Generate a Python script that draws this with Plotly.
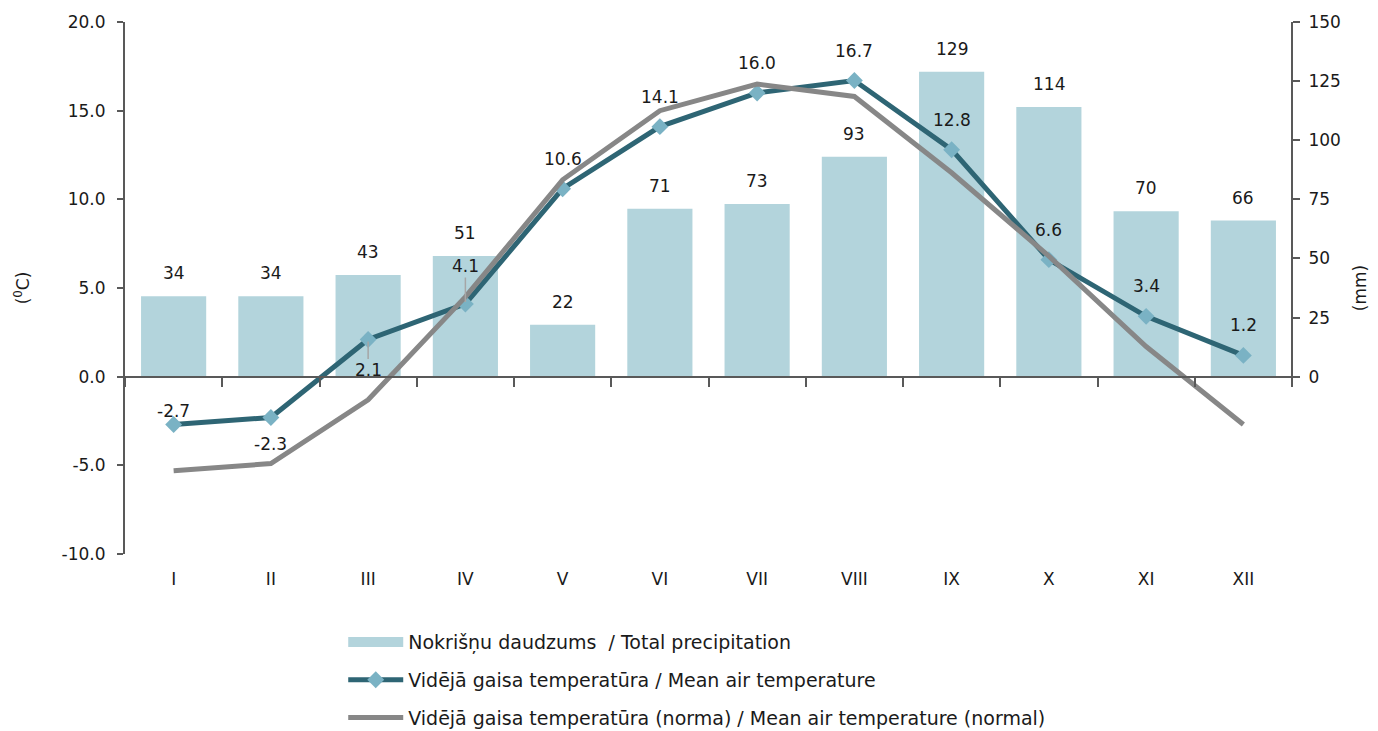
import plotly.graph_objects as go

months = ['I', 'II', 'III', 'IV', 'V', 'VI', 'VII', 'VIII', 'IX', 'X', 'XI', 'XII']
precip = [34, 34, 43, 51, 22, 71, 73, 93, 129, 114, 70, 66]
temp_mean = [-2.7, -2.3, 2.1, 4.1, 10.6, 14.1, 16.0, 16.7, 12.8, 6.6, 3.4, 1.2]
temp_norm = [-5.3, -4.9, -1.3, 4.5, 11.1, 15.0, 16.5, 15.8, 11.5, 6.8, 1.7, -2.7]
temp_ticks = [-10, -5, 0, 5, 10, 15, 20]
precip_ticks = [0, 25, 50, 75, 100, 125, 150]

name_bar = 'Nokrišņu daudzums\u00a0 / Total precipitation'
name_mean = 'Vidējā gaisa temperatūra / Mean air temperature'
name_norm = 'Vidējā gaisa temperatūra (norma) / Mean air temperature (normal)'

# label offsets (px, up is positive) for the mean temperature labels, default 30 above
label_shift = {'I': 14, 'II': -27, 'III': -31, 'IV': 38}

axis_col = '#595959'
txt_col = '#1a1a1a'
font_main = 'DejaVu Sans, Verdana, sans-serif'
bar_col = '#b3d4dc'

fig = go.Figure()

# bars on the base subplot (right axis, mm), lines on the overlay so they sit on top
fig.add_trace(go.Bar(
    x=months, y=precip, name=name_bar, xaxis='x', yaxis='y',
    marker=dict(color=bar_col, line=dict(width=0)),
    showlegend=False,
))
# legend entry drawn as a wide block like the original
fig.add_trace(go.Scatter(
    x=[None], y=[None], name=name_bar, mode='lines', xaxis='x', yaxis='y',
    line=dict(color=bar_col, width=12),
    legendgroup='a', legendrank=1,
))

fig.add_trace(go.Scatter(
    x=months, y=temp_mean, name=name_mean, xaxis='x', yaxis='y2',
    mode='lines+markers',
    line=dict(color='#2e6574', width=5),
    marker=dict(symbol='diamond', size=13, color='#7ab2c4'),
    legendgroup='b', legendrank=2,
))

fig.add_trace(go.Scatter(
    x=months, y=temp_norm, name=name_norm, xaxis='x', yaxis='y2',
    mode='lines',
    line=dict(color='#878787', width=5),
    legendgroup='c', legendrank=3,
))

annotations = []
for m, v in zip(months, precip):
    annotations.append(dict(
        x=m, y=v, xref='x', yref='y', text=str(v), showarrow=False,
        yshift=23, font=dict(size=17, color=txt_col, family=font_main),
    ))

for m, v in zip(months, temp_mean):
    shift = label_shift.get(m, 30)
    if m in ('III', 'IV'):
        annotations.append(dict(
            x=m, y=v, xref='x', yref='y2', text=f'{v:.1f}',
            showarrow=True, arrowhead=0, arrowwidth=1.5, arrowcolor='#a6a6a6',
            ax=0, ay=-shift, standoff=2,
            font=dict(size=17, color=txt_col, family=font_main),
        ))
    else:
        annotations.append(dict(
            x=m, y=v, xref='x', yref='y2', text=f'{v:.1f}', showarrow=False,
            yshift=shift,
            font=dict(size=17, color=txt_col, family=font_main),
        ))

# page body adds an 8px offset, so the figure is 8px smaller than the window
fig.update_layout(
    width=1370, height=723,
    margin=dict(l=117, r=86, t=14, b=177, autoexpand=False),
    plot_bgcolor='white', paper_bgcolor='white',
    font=dict(family=font_main, size=17, color=txt_col),
    bargap=0.33,
    showlegend=True,
    legend=dict(
        orientation='v', x=0.187, y=-0.13, xanchor='left', yanchor='top',
        font=dict(family='DejaVu Sans, sans-serif', size=19, color=txt_col),
        tracegroupgap=10, itemwidth=55,
    ),
    xaxis=dict(
        type='category', categoryorder='array', categoryarray=months,
        range=[-0.5, 11.5], anchor='free', position=1 / 3,
        showline=True, linecolor=axis_col, linewidth=2,
        showgrid=False, zeroline=False, automargin=False,
        ticks='outside', tickson='boundaries', ticklen=9, tickwidth=2, tickcolor=axis_col,
        ticklabelstandoff=187,
        tickfont=dict(size=17, color=txt_col),
    ),
    yaxis=dict(
        side='right', range=[-75, 150],
        tickvals=precip_ticks,
        showline=False, showgrid=False, zeroline=False, automargin=False,
        ticks='outside', ticklen=7, tickwidth=2, tickcolor=axis_col,
        ticklabelstandoff=5,
        title=dict(text='(mm)', standoff=14, font=dict(size=17)),
        tickfont=dict(size=17, color=txt_col),
    ),
    yaxis2=dict(
        overlaying='y', side='left', anchor='x',
        range=[-10, 20], tickvals=temp_ticks,
        ticktext=[f'{t:.1f}' for t in temp_ticks],
        showline=True, linecolor=axis_col, linewidth=2,
        ticks='outside', ticklen=6, tickwidth=2, tickcolor=axis_col,
        ticklabelstandoff=8, automargin=False,
        showgrid=False, zeroline=False,
        title=dict(text='(<sup>0</sup>C)', standoff=28, font=dict(size=17)),
        tickfont=dict(size=17, color=txt_col),
    ),
    annotations=annotations,
    shapes=[dict(
        type='line', xref='paper', yref='y', x0=1, x1=1, y0=-4, y1=150,
        line=dict(color=axis_col, width=2), layer='below',
    )],
)

fig.write_html('out.html')
